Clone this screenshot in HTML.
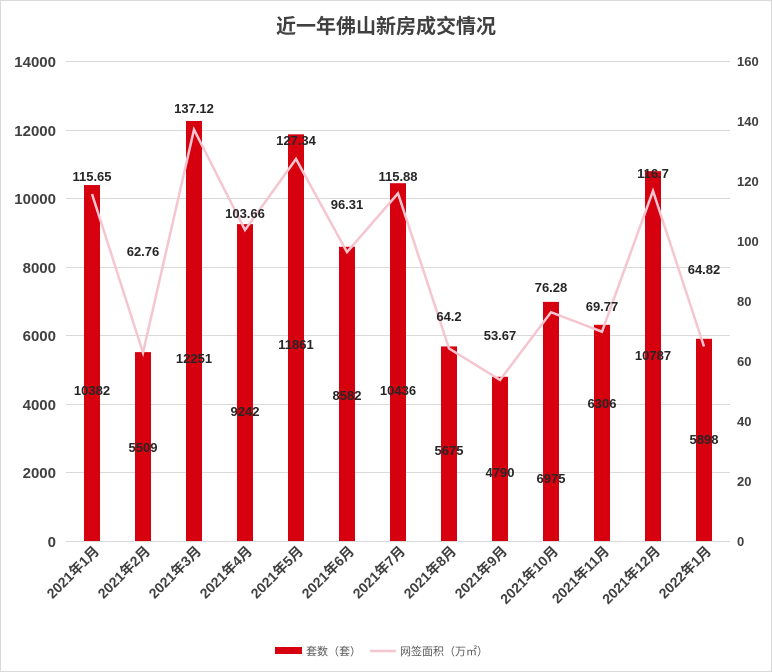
<!DOCTYPE html>
<html><head><meta charset="utf-8"><style>
body{margin:0;background:#fff}
svg{display:block;font-family:"Liberation Sans","Noto Sans CJK SC",sans-serif}
</style></head><body>
<svg width="772" height="672" viewBox="0 0 772 672">
<rect x="0.5" y="0.5" width="771" height="671" fill="#fff" stroke="#d9d9d9"/>
<text x="386" y="33" text-anchor="middle" font-size="20" font-weight="bold" fill="#404040">近一年佛山新房成交情况</text>
<g stroke="#d9d9d9" stroke-width="1">
<line x1="66" x2="730" y1="61.5" y2="61.5"/><line x1="66" x2="730" y1="130.5" y2="130.5"/>
<line x1="66" x2="730" y1="198.5" y2="198.5"/><line x1="66" x2="730" y1="267.5" y2="267.5"/>
<line x1="66" x2="730" y1="335.5" y2="335.5"/><line x1="66" x2="730" y1="404.5" y2="404.5"/>
<line x1="66" x2="730" y1="472.5" y2="472.5"/><line x1="66" x2="730" y1="541.5" y2="541.5"/>
</g>
<g font-size="15" font-weight="bold" fill="#404040" text-anchor="end">
<text x="56" y="67">14000</text><text x="56" y="136">12000</text><text x="56" y="204">10000</text>
<text x="56" y="273">8000</text><text x="56" y="341">6000</text><text x="56" y="410">4000</text>
<text x="56" y="478">2000</text><text x="56" y="547">0</text>
</g>
<g font-size="13" font-weight="bold" fill="#404040">
<text x="737" y="66">160</text><text x="737" y="126">140</text><text x="737" y="186">120</text>
<text x="737" y="246">100</text><text x="737" y="306">80</text><text x="737" y="366">60</text>
<text x="737" y="426">40</text><text x="737" y="486">20</text><text x="737" y="546">0</text>
</g>
<g id="bars" fill="#d7000f"></g>
<polyline id="ln" fill="none" stroke="#f5c6cf" stroke-width="2.5"/>
<g id="lbl" font-size="13" font-weight="bold" fill="#262626" text-anchor="middle"></g>
<g id="xl" font-size="14" font-weight="bold" fill="#404040" text-anchor="end"></g>
<rect x="275" y="647" width="27" height="7" fill="#d7000f"/>
<text x="306" y="655" font-size="11" fill="#595959">套数（套）</text>
<line x1="370" x2="396" y1="651" y2="651" stroke="#f5c6cf" stroke-width="2.5"/>
<text x="400" y="655" font-size="11" fill="#595959">网签面积（万㎡）</text>
</svg>
<script>
var b=[10382,5509,12251,9242,11861,8582,10436,5675,4790,6975,6306,10787,5898];
var l=[115.65,62.76,137.12,103.66,127.34,96.31,115.88,64.2,53.67,76.28,69.77,116.7,64.82];
var iy=[390,447,358,411,344,395,390,450,472,478,403,355,439];
var ty=[176,251,108,213,140,204,176,316,335,287,306,173,269];
var xs=["2021年1月","2021年2月","2021年3月","2021年4月","2021年5月","2021年6月","2021年7月","2021年8月","2021年9月","2021年10月","2021年11月","2021年12月","2022年1月"];
var ns="http://www.w3.org/2000/svg",Z=541,pts=[];
function el(t,a,p,txt){var e=document.createElementNS(ns,t);for(var k in a)e.setAttribute(k,a[k]);if(txt)e.textContent=txt;document.getElementById(p).appendChild(e);}
for(var i=0;i<13;i++){var cx=92+51*i,h=b[i]*480/14000,ly=Z-l[i]*3;
el("rect",{x:cx-8,y:Z-h,width:16,height:h},"bars");
pts.push(cx+","+ly.toFixed(1));
el("text",{x:cx,y:ty[i]+5},"lbl",String(l[i]));
el("text",{x:cx,y:iy[i]+5},"lbl",String(b[i]));
el("text",{x:0,y:0,transform:"translate("+(cx+8)+",552) rotate(-45)"},"xl",xs[i]);}
document.getElementById("ln").setAttribute("points",pts.join(" "));
</script>
</body></html>
